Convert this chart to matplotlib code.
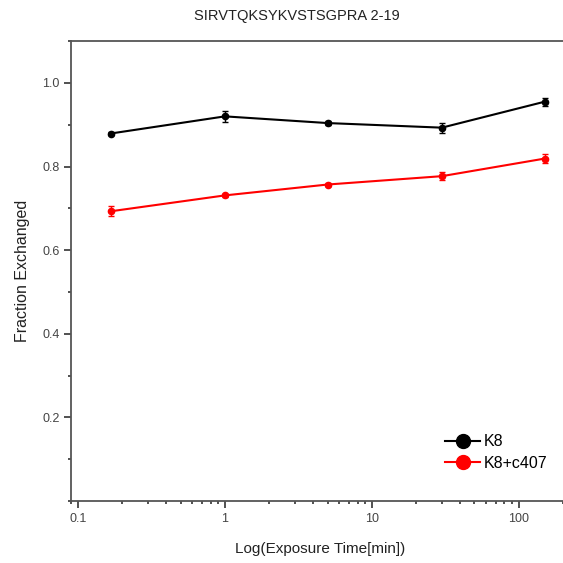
import numpy as np
import matplotlib.pyplot as plt
from matplotlib.lines import Line2D
from matplotlib.ticker import LogLocator, MultipleLocator, FixedFormatter, FixedLocator

plt.rcParams['font.family'] = ['Liberation Sans', 'DejaVu Sans']

# exposure times in minutes
tempo = [0.167, 1, 5, 30, 150]
k8 = [0.879, 0.920, 0.904, 0.893, 0.955]
k8_err = [0.004, 0.013, 0.004, 0.012, 0.010]
k8_c407 = [0.693, 0.731, 0.757, 0.777, 0.819]
k8_c407_err = [0.012, 0.003, 0.003, 0.010, 0.010]

fig = plt.figure(figsize=(5.63, 5.63), dpi=100)
ax = fig.add_axes([0.1266, 0.110, 0.884, 0.817])

ax.errorbar(tempo, k8, yerr=k8_err, color='black', marker='o', markersize=4.5,
            linewidth=1.5, capsize=2, elinewidth=1)
ax.errorbar(tempo, k8_c407, yerr=k8_c407_err, color='#ff0000', marker='o', markersize=4.5,
            linewidth=1.5, capsize=2, elinewidth=1)

ax.set_xscale('log')
ax.set_xlim(0.09, 220)
ax.set_ylim(0, 1.1)

ax.xaxis.set_major_locator(FixedLocator([0.1, 1, 10, 100]))
ax.xaxis.set_major_formatter(FixedFormatter(['0.1', '1', '10', '100']))
ax.xaxis.set_minor_locator(LogLocator(base=10, subs=np.arange(2, 10)))
ax.yaxis.set_major_locator(FixedLocator([0.2, 0.4, 0.6, 0.8, 1.0]))
ax.yaxis.set_minor_locator(MultipleLocator(0.1))

for s in ['top', 'bottom', 'left']:
    ax.spines[s].set_linewidth(1.3)
    ax.spines[s].set_color('#555555')
ax.spines['right'].set_visible(False)

ax.tick_params(which='major', direction='out', length=5, width=1.2, color='#333333',
               labelsize=9, labelcolor='#444444')
ax.tick_params(which='minor', direction='out', length=2.5, width=1.2, color='#333333')

ax.set_xlabel('Log(Exposure Time[min])', fontsize=11, color='#222222', labelpad=12)
ax.set_ylabel('Fraction Exchanged', fontsize=11.5, color='#222222', labelpad=9)
fig.text(0.527, 0.972, 'SIRVTQKSYKVSTSGPRA 2-19', ha='center', va='center',
         fontsize=10.5, color='#222222')

# legend handles without the error bars
handles = [Line2D([], [], color='black', marker='o', markersize=10, linewidth=1.5),
           Line2D([], [], color='#ff0000', marker='o', markersize=10, linewidth=1.5)]
leg = ax.legend(handles, ['K8', 'K8+c407'], loc='lower right',
                bbox_to_anchor=(0.985, 0.035), frameon=False, fontsize=11.5,
                handlelength=2.2, handletextpad=0.2, labelspacing=0.4)

fig.savefig('out.png', dpi=100)
